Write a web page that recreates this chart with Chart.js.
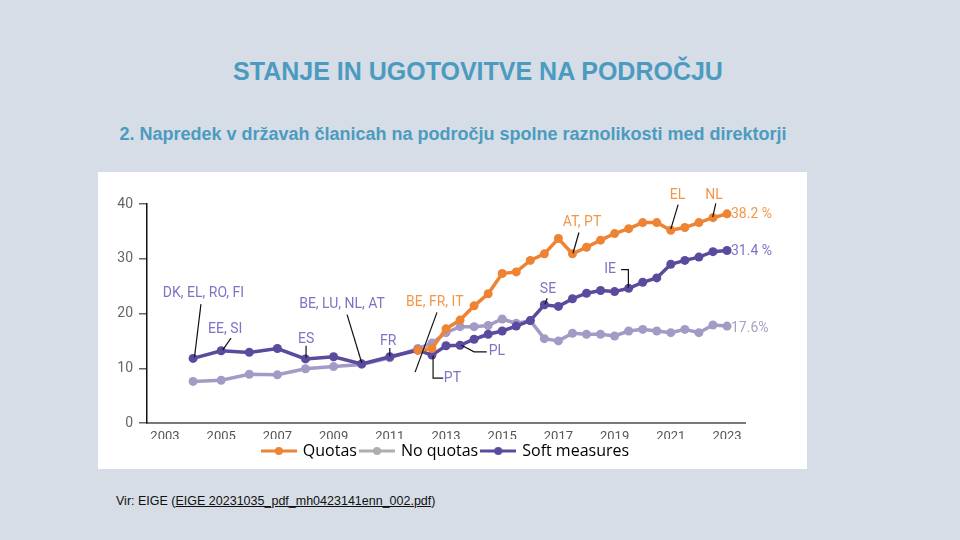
<!DOCTYPE html>
<html>
<head>
<meta charset="utf-8">
<script src="https://cdn.jsdelivr.net/npm/chart.js@4.4.1/dist/chart.umd.min.js"></script>
<style>
  html, body { margin:0; padding:0; }
  body { width:960px; height:540px; background:#D6DDE6; position:relative; overflow:hidden; font-family:"Liberation Sans", Arial, sans-serif; }
  #title { position:absolute; left:0; width:956px; top:57px; text-align:center; color:#4B9BC0; font-weight:bold; font-size:25px; }
  #subtitle { position:absolute; left:0; width:906px; top:124px; text-align:center; color:#4B9BC0; font-weight:bold; font-size:18px; }
  #box { position:absolute; left:98px; top:172px; width:709px; height:297px; background:#fff; }
  #src { position:absolute; left:116px; top:494px; font-size:12.5px; color:#111; }
  #src u { text-decoration:underline; }
</style>
</head>
<body>
<div id="title">STANJE IN UGOTOVITVE NA PODROČJU</div>
<div id="subtitle">2. Napredek v državah članicah na področju spolne raznolikosti med direktorji</div>
<div id="box"><canvas id="c" width="709" height="297"></canvas></div>
<div id="src">Vir: EIGE (<u>EIGE 20231035_pdf_mh0423141enn_002.pdf</u>)</div>
<script>
// ---- data ----
const years = [2004,2005,2006,2007,2008,2009,2010,2011,
  2012,2012.5,2013,2013.5,2014,2014.5,2015,2015.5,2016,2016.5,2017,2017.5,
  2018,2018.5,2019,2019.5,2020,2020.5,2021,2021.5,2022,2022.5,2023];
const quotas = [null,null,null,null,null,null,null,null,
  13.3,13.6,17.2,18.8,21.4,23.6,27.3,27.6,29.7,30.9,33.7,30.9,
  32.1,33.4,34.6,35.5,36.6,36.6,35.2,35.7,36.6,37.5,38.2];
const noQuotas = [7.6,7.8,8.9,8.8,9.9,10.3,10.7,11.9,
  13.6,14.6,16.5,17.6,17.6,17.8,19.0,18.2,18.7,15.4,15.0,16.4,
  16.2,16.2,15.9,16.8,17.1,16.8,16.5,17.1,16.5,17.9,17.7];
const softMeasures = [11.8,13.2,12.9,13.6,11.7,12.1,10.8,12.1,
  13.3,12.4,14.1,14.2,15.3,16.2,16.8,17.7,18.7,21.6,21.3,22.7,
  23.7,24.2,24.0,24.6,25.7,26.5,29.0,29.7,30.3,31.3,31.5];
const xTicks = [2003,2005,2007,2009,2011,2013,2015,2017,2019,2021,2023];
const yTicks = [0,10,20,30,40];
const seriesNames = ['Quotas','No quotas','Soft measures'];

// annotations: text, colour key, anchor (x year, y value), leader polyline
const notes = [
  {t:'DK, EL, RO, FI', c:'p', x:2004.37, y:23.6, line:[[2004.28,21.7],[2004.05,12.0]]},
  {t:'EE, SI', c:'p', x:2005.14, y:17.1, line:[[2005.35,15.5],[2005.05,13.3]]},
  {t:'ES', c:'p', x:2008.02, y:15.3, line:[[2008.02,14.1],[2008.02,11.9]]},
  {t:'BE, LU, NL, AT', c:'p', x:2009.3, y:21.6, line:[[2009.48,19.8],[2010.0,11.0]]},
  {t:'FR', c:'p', x:2010.94, y:14.9, line:[[2011.0,13.7],[2011.0,12.2]]},
  {t:'BE, FR, IT', c:'o', x:2012.6, y:22.1, line:[[2012.68,20.2],[2011.9,9.3]]},
  {t:'PT', c:'p', x:2013.23, y:8.2, line:[[2012.54,12.3],[2012.54,8.2],[2012.9,8.2]]},
  {t:'PL', c:'p', x:2014.81, y:13.1, line:[[2013.55,14.2],[2014.0,13.0],[2014.45,13.0]]},
  {t:'SE', c:'p', x:2016.63, y:24.3, line:[[2016.6,22.8],[2016.52,21.7]]},
  {t:'AT, PT', c:'o', x:2017.84, y:36.6, line:[[2017.73,34.8],[2017.52,31.0]]},
  {t:'IE', c:'p', x:2018.84, y:28.1, line:[[2019.23,28.0],[2019.49,28.0],[2019.49,24.7]]},
  {t:'EL', c:'o', x:2021.24, y:41.6, line:[[2021.26,39.9],[2021.0,35.4]]},
  {t:'NL', c:'o', x:2022.54, y:41.6, line:[[2022.6,40.1],[2022.49,37.6]]},
  {t:'38.2 %', c:'o', x:2023.14, y:38.1, left:true},
  {t:'31.4 %', c:'p', x:2023.14, y:31.3, left:true},
  {t:'17.6%', c:'g', x:2023.14, y:17.3, left:true}
];

const COL = {o:'#EE8433', g:'#A39BC6', p:'#5B4A9D'};
const TXT = {o:'#F2974A', g:'#A7A2C4', p:'#7E74C4'};
const LEG = ['#EE8433','#AEAEAE','#5B4A9D'];

function pts(arr){ return years.map((y,i)=>({x:y, y:arr[i]})); }
function legendImg(col){
  const cv = document.createElement('canvas'); cv.width=36; cv.height=10;
  const g = cv.getContext('2d');
  g.strokeStyle = col; g.lineWidth = 3;
  g.beginPath(); g.moveTo(0,5); g.lineTo(36,5); g.stroke();
  g.fillStyle = col; g.beginPath(); g.arc(18,5,4,0,Math.PI*2); g.fill();
  return cv;
}

const notePlugin = {
  id:'notes',
  afterDatasetsDraw(chart){
    const {ctx, scales:{x, y}} = chart;
    ctx.save();
    ctx.font = '14px "Liberation Sans Narrow", "Roboto", sans-serif';
    ctx.textBaseline = 'middle';
    notes.forEach(n=>{
      if (n.line){
        ctx.strokeStyle = '#111'; ctx.lineWidth = 1.2;
        ctx.beginPath();
        n.line.forEach((p,i)=>{
          const px = x.getPixelForValue(p[0]), py = y.getPixelForValue(p[1]);
          if (i===0) ctx.moveTo(px,py); else ctx.lineTo(px,py);
        });
        ctx.stroke();
      }
      ctx.fillStyle = TXT[n.c];
      ctx.textAlign = n.left ? 'left' : 'center';
      ctx.fillText(n.t, x.getPixelForValue(n.x), y.getPixelForValue(n.y));
    });
    ctx.restore();
  }
};

const mk = (name, arr, col, order) => ({
  label:name, data:pts(arr), borderColor:col, backgroundColor:col,
  borderWidth:3.5, pointRadius:4.5, pointHoverRadius:4.5, pointBorderWidth:0,
  tension:0, spanGaps:false, order:order
});

new Chart(document.getElementById('c'), {
  type:'line',
  data:{ datasets:[
    mk(seriesNames[0], quotas, COL.o, 1),
    mk(seriesNames[1], noQuotas, COL.g, 3),
    mk(seriesNames[2], softMeasures, COL.p, 2)
  ]},
  options:{
    responsive:false, devicePixelRatio:1, animation:false,
    layout:{ padding:{top:32, right:62, left:0, bottom:0} },
    plugins:{
      tooltip:{enabled:false},
      legend:{
        position:'bottom', fullSize:false,
        labels:{
          usePointStyle:true, pointStyleWidth:32, padding:4,
          color:'#404040', font:{family:'"Open Sans", sans-serif', size:16},
          generateLabels(chart){
            return chart.data.datasets.map((d,i)=>({
              text:d.label, pointStyle:legendImg(LEG[i]), fillStyle:LEG[i],
              strokeStyle:LEG[i], lineWidth:0, hidden:false, datasetIndex:i
            }));
          }
        }
      }
    },
    scales:{
      x:{
        type:'linear', min:2002.36, max:2023.64,
        afterBuildTicks(s){ s.ticks = xTicks.map(v=>({value:v})); },
        afterFit(s){ s.height = 16; },
        grid:{display:true, drawOnChartArea:false, drawTicks:false},
        border:{color:'#7a7a7a', width:2},
        ticks:{ padding:6, color:'#555', maxRotation:0, autoSkip:false,
          font:{family:'"Liberation Sans Narrow", "Roboto", sans-serif', size:13},
          callback:v=>String(v) }
      },
      y:{
        min:0, max:40,
        afterBuildTicks(s){ s.ticks = yTicks.map(v=>({value:v})); },
        afterFit(s){ s.width = 49; },
        grid:{display:true, drawOnChartArea:false, drawTicks:true, tickLength:8, color:'#666', lineWidth:1.5},
        border:{color:'#111', width:1.5},
        ticks:{ padding:6, color:'#666',
          font:{family:'"Liberation Sans Narrow", "Roboto", sans-serif', size:14} }
      }
    }
  },
  plugins:[notePlugin]
});
</script>
</body>
</html>
